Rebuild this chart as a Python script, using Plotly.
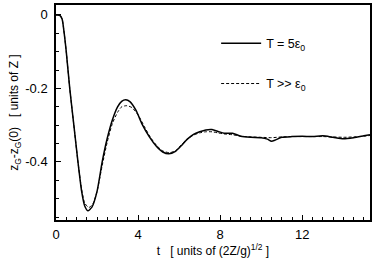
import plotly.graph_objects as go

t_solid = [0, 0.1, 0.2, 0.3, 0.4, 0.5, 0.67, 0.87, 1.07, 1.25, 1.4, 1.55, 1.75, 2.0, 2.25, 2.5, 2.75,
           3.0, 3.2, 3.4, 3.6, 3.9, 4.2, 4.55, 4.9, 5.2, 5.5, 5.8, 6.1, 6.4, 6.7, 7.0, 7.3, 7.6,
           7.9, 8.2, 8.6, 9.0, 9.5, 10.0, 10.3, 10.5, 10.7, 11.0, 11.5, 12.0, 12.5, 13.0, 13.5,
           14.0, 14.5, 15.0, 15.3]
z_solid = [0, 0.0, -0.002, -0.012, -0.05, -0.10, -0.20, -0.30, -0.40, -0.48, -0.52, -0.533, -0.523,
           -0.48, -0.40, -0.335, -0.285, -0.25, -0.235, -0.231, -0.236, -0.26, -0.298, -0.332,
           -0.358, -0.373, -0.378, -0.372, -0.356, -0.338, -0.325, -0.318, -0.313, -0.312, -0.317,
           -0.322, -0.322, -0.33, -0.333, -0.334, -0.338, -0.344, -0.340, -0.333, -0.331, -0.330,
           -0.331, -0.329, -0.333, -0.337, -0.334, -0.329, -0.326]

t_dash = [0, 0.1, 0.2, 0.3, 0.4, 0.5, 0.67, 0.87, 1.07, 1.25, 1.4, 1.6, 1.8, 2.0, 2.25, 2.5, 2.75,
          3.0, 3.2, 3.45, 3.7, 4.0, 4.3, 4.6, 4.9, 5.2, 5.55, 5.85, 6.1, 6.4, 6.7, 7.0, 7.3, 7.6,
          7.9, 8.2, 8.6, 9.0, 9.5, 10.0, 10.5, 11.0, 11.5, 12.0, 12.5, 13.0, 13.5, 14.0, 14.5,
          15.0, 15.3]
z_dash = [0, 0.0, -0.002, -0.012, -0.05, -0.10, -0.20, -0.30, -0.40, -0.475, -0.512, -0.524, -0.514,
          -0.48, -0.41, -0.345, -0.295, -0.265, -0.25, -0.247, -0.252, -0.272, -0.303, -0.333,
          -0.355, -0.37, -0.375, -0.368, -0.354, -0.338, -0.327, -0.321, -0.318, -0.318, -0.321,
          -0.324, -0.326, -0.33, -0.332, -0.333, -0.334, -0.332, -0.331, -0.331, -0.331, -0.331,
          -0.332, -0.333, -0.332, -0.33, -0.328]

x_ticks = [0, 4, 8, 12]
y_ticks = [0, -0.2, -0.4]
y_tick_labels = ["0", "-0.2", "-0.4"]

legend_solid = "T = 5ε<sub>0</sub>"
legend_dash = "T &gt;&gt; ε<sub>0</sub>"

fig = go.Figure()
fig.add_trace(go.Scatter(x=t_solid, y=z_solid, mode="lines", name=legend_solid,
                         legendgroup="a", line=dict(color="black", width=1.5, shape="spline", smoothing=0.6)))
fig.add_trace(go.Scatter(x=t_dash, y=z_dash, mode="lines", name=legend_dash,
                         legendgroup="b", line=dict(color="black", width=1, dash="3px,2px", shape="spline", smoothing=0.6)))

font = dict(family="Liberation Sans, Arial, sans-serif", size=13, color="black")
title_font = dict(family="Liberation Sans, Arial, sans-serif", size=12, color="black")

fig.update_layout(
    width=374, height=264,
    margin=dict(l=56, r=4, t=5, b=44),
    paper_bgcolor="white", plot_bgcolor="white",
    font=font,
    showlegend=True,
    legend=dict(x=0.51, y=0.89, xanchor="left", yanchor="top", bgcolor="rgba(0,0,0,0)",
                traceorder="grouped", tracegroupgap=21, font=dict(size=12.5), itemwidth=40),
    xaxis=dict(range=[0, 15.3], tickvals=x_ticks, ticks="inside", ticklen=5, tickwidth=1,
               tickcolor="black", showline=True, linecolor="black", linewidth=1.5, mirror=True,
               showgrid=False, zeroline=False, automargin=False, ticklabelstandoff=2,
               minor=dict(dtick=0.5, tick0=0, ticks="inside", ticklen=3, tickcolor="black", showgrid=False),
               title=dict(text="t &nbsp; [ units of (2Z/g)<sup>1/2</sup> ]", standoff=0, font=title_font)),
    yaxis=dict(range=[-0.558, 0.027], tickvals=y_ticks, ticktext=y_tick_labels, ticks="inside",
               ticklen=5, tickwidth=1, tickcolor="black", showline=True, linecolor="black",
               linewidth=1.5, mirror=True, showgrid=False, zeroline=False, automargin=False,
               ticklabelstandoff=4,
               minor=dict(dtick=0.05, tick0=0, ticks="inside", ticklen=3, tickcolor="black", showgrid=False),
               title=dict(text="z<sub>G</sub>-z<sub>G</sub>(0) &nbsp; [ units of Z ]", standoff=4, font=title_font)),
)

fig.write_html("out.html", post_script="document.body.style.margin='0';",
               config={"displayModeBar": False})
